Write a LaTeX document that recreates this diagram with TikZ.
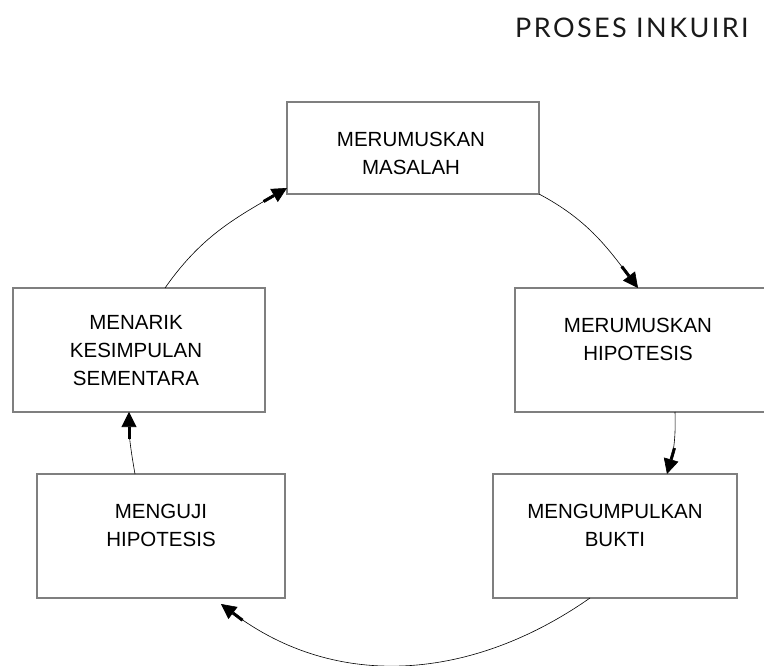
\documentclass[tikz,border=0pt]{standalone}
\usepackage{fontspec}
\setmainfont{Liberation Sans}
\newfontfamily\judulfont[LetterSpace=9]{Lato}
\usetikzlibrary{arrows.meta}
\definecolor{garis}{HTML}{7F7F7F}
\definecolor{tinta}{HTML}{1A1A1A}

\tikzset{
  tahap/.style={draw=garis,line width=1.3pt,inner sep=0pt,outer sep=0pt},
  teks/.style={align=center,inner sep=0pt,text=black,font=\fontsize{20.5}{28}\selectfont},
  panah/.style={line width=0.6pt,
    -{Rectangle[length=12pt,width=3pt]Triangle[length=15pt,width=15pt]}}
}

\begin{document}
\begin{tikzpicture}[x=1pt,y=-1pt]
\useasboundingbox (0,0) rectangle (764,666);

\node[anchor=base west,inner sep=0pt,text=tinta,
  font=\judulfont\fontsize{27}{32}\selectfont] (judul) at (515,38) {PROSES INKUIRI};

% kotak tahapan
\node[tahap,minimum width=252pt,minimum height=92pt]  (masalah)    at (413,148) {};
\node[tahap,minimum width=250pt,minimum height=124pt] (hipotesis)  at (640,350) {};
\node[tahap,minimum width=244pt,minimum height=124pt] (bukti)      at (615,536) {};
\node[tahap,minimum width=248pt,minimum height=124pt] (menguji)    at (161,536) {};
\node[tahap,minimum width=252pt,minimum height=124pt] (kesimpulan) at (139,350) {};

\node[teks] (masalah-t)    at (411,153.6) {MERUMUSKAN\\MASALAH};
\node[teks] (hipotesis-t)  at (638,339.7) {MERUMUSKAN\\HIPOTESIS};
\node[teks] (bukti-t)      at (615,525.7) {MENGUMPULKAN\\BUKTI};
\node[teks] (menguji-t)    at (161,525.7) {MENGUJI\\HIPOTESIS};
\node[teks] (kesimpulan-t) at (136,351)   {MENARIK\\KESIMPULAN\\SEMENTARA};

% siklus
\draw[panah] ([xshift=26pt]kesimpulan.north) to[out=55,in=210] ([yshift=6pt]masalah.south west);
\draw[panah] (masalah.south east) to[out=-28,in=127] ([xshift=-2pt]hipotesis.north);
\draw[panah] ([xshift=35pt]hipotesis.south) to[out=-88,in=74] ([xshift=52pt]bukti.north);
\draw[panah] ([xshift=-25pt]bukti.south) to[out=215,in=323] ([xshift=60pt,yshift=-6pt]menguji.south);
\draw[panah] ([xshift=-26pt]menguji.north) to[out=100,in=-90] ([xshift=-10pt]kesimpulan.south);
\end{tikzpicture}
\end{document}
